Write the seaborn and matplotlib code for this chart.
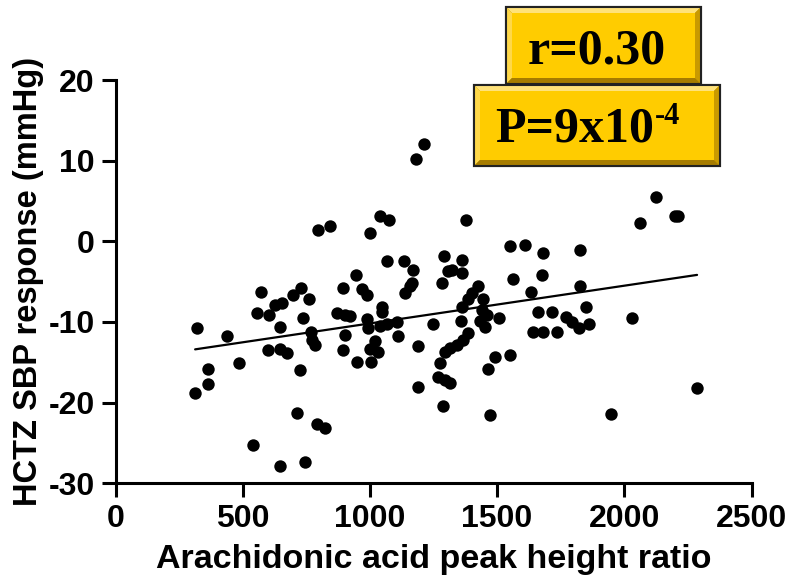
import matplotlib
matplotlib.use("Agg")
import matplotlib.pyplot as plt
import seaborn as sns
import pandas as pd
from matplotlib.patches import Rectangle, Polygon

# ---- data ----
aa_ratio = [
    320, 438, 487, 365, 363, 313, 572, 555, 605, 647, 627, 653, 601, 647, 673,
    699, 729, 759, 738, 767, 771, 784, 727, 712, 791, 824, 542, 647, 745, 797,
    843, 895, 945, 968, 987, 871, 902, 923, 902, 895, 948, 1000, 1040, 1077, 1067,
    1134, 1171, 1138, 1158, 1164, 987, 994, 1046, 1046, 1040, 1069, 1105, 1109, 1020, 1002,
    1030, 1004, 1190, 1190, 1181, 1212, 1249, 1290, 1282, 1308, 1276, 1269, 1295, 1315, 1286,
    1378, 1361, 1322, 1361, 1426, 1400, 1387, 1446, 1361, 1440, 1459, 1433, 1453, 1358, 1508,
    1387, 1367, 1341, 1315, 1295, 1492, 1551, 1465, 1472, 1551, 1610, 1679, 1826, 1563, 1675,
    1634, 1826, 1851, 1662, 1717, 1769, 1796, 1822, 1861, 1642, 1682, 1737, 2030, 2062, 2123,
    2201, 2213, 2286, 1946,
]
sbp_response = [
    -10.8, -11.8, -15.1, -15.8, -17.7, -18.8, -6.3, -8.9, -9.1, -10.6, -7.9, -7.6, -13.5, -13.4, -13.9,
    -6.6, -5.8, -7.2, -9.5, -11.2, -12.2, -12.8, -16.0, -21.3, -22.6, -23.1, -25.3, -27.8, -27.4, 1.4,
    1.9, -5.8, -4.2, -5.9, -6.6, -8.9, -9.1, -9.2, -11.6, -13.5, -14.9, 1.0, 3.1, 2.6, -2.4,
    -2.4, -3.5, -6.4, -5.5, -5.2, -9.6, -10.8, -8.1, -8.8, -10.5, -10.3, -10.0, -11.7, -12.4, -13.4,
    -13.7, -14.9, -13.0, -18.0, 10.2, 12.1, -10.2, -1.8, -5.2, -3.7, -15.1, -16.8, -17.2, -17.6, -20.4,
    2.6, -2.3, -3.5, -3.9, -5.6, -6.4, -7.2, -7.2, -8.1, -8.5, -9.1, -9.9, -10.6, -9.9, -9.5,
    -11.4, -12.2, -12.8, -13.2, -13.7, -14.3, -14.1, -15.8, -21.5, -0.6, -0.4, -1.5, -1.1, -4.7, -4.2,
    -6.3, -5.6, -8.1, -8.8, -8.8, -9.4, -10.0, -10.7, -10.3, -11.3, -11.3, -11.3, -9.5, 2.3, 5.5,
    3.2, 3.1, -18.2, -21.4,
]
x_ticks = [0, 500, 1000, 1500, 2000, 2500]
y_ticks = [-30, -20, -10, 0, 10, 20]
x_label = "Arachidonic acid peak height ratio"
y_label = "HCTZ SBP response (mmHg)"
r_text = "r=0.30"
p_main = "P=9x10"
p_exp = "-4"

df = pd.DataFrame({"aa": aa_ratio, "sbp": sbp_response})

sns.set_theme(style="ticks")
plt.rcParams["font.family"] = ["Liberation Sans", "DejaVu Sans"]
plt.rcParams["text.color"] = "black"
plt.rcParams["axes.labelcolor"] = "black"
plt.rcParams["xtick.color"] = "black"
plt.rcParams["ytick.color"] = "black"

W, H = 792, 581
fig = plt.figure(figsize=(W / 100, H / 100), dpi=100)
ax = fig.add_axes([115.5 / W, 1 - 483.3 / H, 636 / W, (483.3 - 80) / H])

sns.regplot(data=df, x="aa", y="sbp", ax=ax, ci=None,
            scatter_kws=dict(s=80, color="black", edgecolor="black", linewidths=0, alpha=1),
            line_kws=dict(color="black", lw=1.6))

ax.set_xlim(0, 2500)
ax.set_ylim(-30, 20)
ax.set_xticks(x_ticks)
ax.set_yticks(y_ticks)
ax.set_xticklabels([str(t) for t in x_ticks], fontsize=23, fontweight="bold")
ax.set_yticklabels([str(t) for t in y_ticks], fontsize=23, fontweight="bold")
ax.set_xlabel(x_label, fontsize=24.5, fontweight="bold", labelpad=7)
ax.set_ylabel(y_label, fontsize=23.5, fontweight="bold", labelpad=3)
for side in ["left", "bottom"]:
    ax.spines[side].set_linewidth(2.2)
    ax.spines[side].set_color("black")
for side in ["top", "right"]:
    ax.spines[side].set_visible(False)
ax.tick_params(axis="both", width=2.2, length=10, color="black", pad=5)
ax.set_facecolor("white")


def fx(px):
    return px / W


def fy(py):
    return 1 - py / H


def bevel_box(x0, y0, x1, y1, b=6):
    fig.patches.append(Rectangle((fx(x0), fy(y1)), fx(x1) - fx(x0), fy(y0) - fy(y1),
                                 transform=fig.transFigure, facecolor="#B08A00",
                                 edgecolor="#222222", lw=1.5, zorder=5))
    top = [(x0, y0), (x1, y0), (x1 - b, y0 + b), (x0 + b, y0 + b)]
    left = [(x0, y0), (x0 + b, y0 + b), (x0 + b, y1 - b), (x0, y1)]
    bottom = [(x0, y1), (x0 + b, y1 - b), (x1 - b, y1 - b), (x1, y1)]
    right = [(x1, y0), (x1, y1), (x1 - b, y1 - b), (x1 - b, y0 + b)]
    for pts, c in [(top, "#FFE27A"), (left, "#FFD84A"), (bottom, "#A67C00"), (right, "#C99A00")]:
        fig.patches.append(Polygon([(fx(a), fy(c_)) for a, c_ in pts], closed=True,
                                   transform=fig.transFigure, facecolor=c, edgecolor="none", zorder=6))
    fig.patches.append(Rectangle((fx(x0 + b), fy(y1 - b)), fx(x1 - b) - fx(x0 + b),
                                 fy(y0 + b) - fy(y1 - b), transform=fig.transFigure,
                                 facecolor="#FFCC00", edgecolor="none", zorder=7))
    fig.patches.append(Rectangle((fx(x0), fy(y1)), fx(x1) - fx(x0), fy(y0) - fy(y1),
                                 transform=fig.transFigure, facecolor="none",
                                 edgecolor="#222222", lw=1.5, zorder=8))


bevel_box(506, 7, 701, 84)
bevel_box(474, 85, 720, 166)

fig.text(fx(597), fy(63), r_text, ha="center", va="baseline", fontsize=36,
         fontweight="bold", family="Liberation Serif", zorder=10)
pt = fig.text(fx(495), fy(141), p_main, ha="left", va="baseline", fontsize=36,
              fontweight="bold", family="Liberation Serif", zorder=10)
fig.canvas.draw()
bb = pt.get_window_extent(renderer=fig.canvas.get_renderer())
fig.text(bb.x1 / W + 1 / W, fy(124), p_exp, ha="left", va="baseline", fontsize=22,
         fontweight="bold", family="Liberation Serif", zorder=10)

fig.savefig("out.png", dpi=100, facecolor="white")
